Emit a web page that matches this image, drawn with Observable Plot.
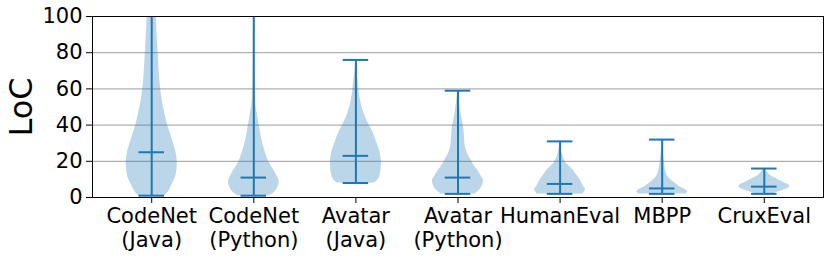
<!DOCTYPE html>
<html>
<head>
<meta charset="utf-8">
<script src="https://cdn.jsdelivr.net/npm/d3@7"></script>
<script src="https://cdn.jsdelivr.net/npm/@observablehq/plot@0.6"></script>
<style>
  html, body { margin: 0; padding: 0; background: white; }
  #chart svg { display: block; }
</style>
</head>
<body>
<div id="chart"></div>
<script>
// ---- data ----
const categories = ["CodeNet\n(Java)", "CodeNet\n(Python)", "Avatar\n(Java)", "Avatar\n(Python)", "HumanEval", "MBPP", "CruxEval"];
const positions = [1, 2, 3, 4, 5, 6, 7];
const mins    = [1, 1, 8, 2, 2, 2, 2];
const medians = [25, 11, 23, 11, 7.5, 5, 6];
const maxes   = [250, 250, 76, 59, 31, 32, 16];
const yTicks = [0, 20, 40, 60, 80, 100];

// violin outlines: LoC levels and relative half-width (1 = widest)
const profileLoc = [
  [1, 3, 6, 11, 16, 20, 25, 30, 35, 40, 45, 50, 60, 70, 80, 90, 100, 110],
  [1, 3.5, 6, 8, 10, 13.6, 17, 20, 25, 30, 35, 40, 45, 50, 55, 60, 70, 80, 100, 110],
  [8, 9, 11, 13.2, 16, 19.6, 24, 27.9, 31, 35.3, 40, 44.5, 49, 53.7, 58, 62.9, 67, 71, 76],
  [2, 5, 7, 9.5, 12, 15, 18, 20.6, 24, 27.9, 32, 36, 39, 42, 46.3, 50, 54, 59],
  [2, 3.1, 4.5, 5.9, 8, 10.5, 13, 15, 17, 18.7, 20.5, 22.4, 26, 31],
  [2, 3.1, 4.9, 6, 7.7, 9.5, 11.4, 14, 16.9, 20, 25, 32],
  [2, 3, 4, 5, 5.9, 6.8, 8, 9.5, 11, 12.3, 14, 16]
];
const profileWidth = [
  [0.52, 0.65, 0.76, 0.93, 0.99, 1.0, 0.95, 0.85, 0.74, 0.62, 0.54, 0.46, 0.35, 0.29, 0.25, 0.21, 0.18, 0.16],
  [0.62, 0.85, 0.95, 1.0, 0.97, 0.85, 0.7, 0.58, 0.45, 0.35, 0.27, 0.21, 0.15, 0.09, 0.06, 0.045, 0.03, 0.025, 0.02, 0.02],
  [0.72, 0.82, 0.92, 0.96, 0.99, 1.0, 0.96, 0.88, 0.8, 0.69, 0.52, 0.37, 0.26, 0.18, 0.13, 0.1, 0.06, 0.03, 0.01],
  [0.68, 0.9, 0.97, 1.0, 0.9, 0.77, 0.62, 0.52, 0.38, 0.29, 0.26, 0.24, 0.22, 0.18, 0.12, 0.08, 0.05, 0.01],
  [0.9, 0.95, 1.0, 0.92, 0.85, 0.75, 0.62, 0.52, 0.38, 0.26, 0.18, 0.12, 0.05, 0.01],
  [0.92, 1.0, 0.85, 0.68, 0.52, 0.35, 0.23, 0.15, 0.11, 0.08, 0.04, 0.01],
  [0.35, 0.55, 0.75, 0.92, 1.0, 0.97, 0.8, 0.59, 0.38, 0.23, 0.12, 0.02]
];

// ---- build tables for the library ----
const halfWidth = 0.25;   // violin half-width in x units
const capHalf = 0.125;    // cap / median half-length in x units
const blue = "#1f77b4";

const violinRows = [];
profileLoc.forEach((locs, i) => {
  locs.forEach((loc, j) => {
    violinRows.push({pos: positions[i], loc, w: profileWidth[i][j], cat: categories[i]});
  });
});
const stats = positions.map((p, i) => ({pos: p, min: mins[i], med: medians[i], max: maxes[i]}));
const caps = [];
stats.forEach(s => {
  caps.push({pos: s.pos, y: s.min});
  caps.push({pos: s.pos, y: s.med});
  if (s.max <= 100) caps.push({pos: s.pos, y: s.max});
});

const chart = Plot.plot({
  width: 831,
  height: 259,
  marginLeft: 92,
  marginRight: 8,
  marginTop: 16,
  marginBottom: 62,
  style: {fontFamily: "'DejaVu Sans', sans-serif", fontSize: "21px", color: "black", background: "white"},
  x: {domain: [0.42, 7.58]},
  y: {domain: [0, 100]},
  marks: [
    Plot.gridY(yTicks, {stroke: "#b0b0b0", strokeOpacity: 1, strokeWidth: 1.2}),
    Plot.areaX(violinRows, {
      y: "loc",
      x1: d => d.pos - d.w * halfWidth,
      x2: d => d.pos + d.w * halfWidth,
      z: "cat",
      fill: blue,
      fillOpacity: 0.3,
      curve: "catmull-rom",
      clip: true
    }),
    Plot.ruleX(stats, {x: "pos", y1: "min", y2: "max", stroke: blue, strokeWidth: 2, clip: true}),
    Plot.ruleY(caps, {y: "y", x1: d => d.pos - capHalf, x2: d => d.pos + capHalf, stroke: blue, strokeWidth: 2, clip: true}),
    Plot.axisY({ticks: yTicks, tickSize: 6, tickPadding: 4, fontSize: 21, label: null}),
    Plot.axisX({
      ticks: positions,
      tickFormat: p => categories[p - 1],
      tickSize: 6,
      tickPadding: 3,
      fontSize: 21,
      lineHeight: 1.12,
      label: null
    }),
    Plot.frame({stroke: "black", strokeWidth: 1}),
    Plot.text(["LoC"], {
      frameAnchor: "left",
      dx: -71,
      rotate: -90,
      fontSize: 32,
      textAnchor: "middle",
      lineAnchor: "middle",
      fill: "black"
    })
  ]
});
document.getElementById("chart").appendChild(chart);
</script>
</body>
</html>
